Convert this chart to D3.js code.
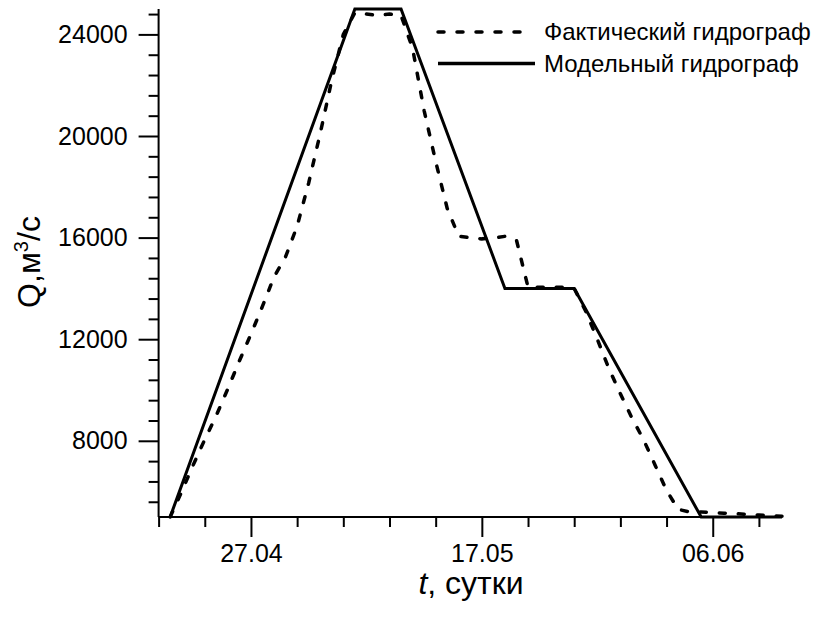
<!DOCTYPE html>
<html>
<head>
<meta charset="utf-8">
<script src="https://cdn.jsdelivr.net/npm/d3@7"></script>
<style>
body { margin: 0; background: #fff; }
text { font-family: "Liberation Sans", Arial, sans-serif; fill: #000; }
</style>
</head>
<body>
<div id="chart"></div>
<script>
// data
var factDates = ["20.04","21.04","22.04","23.04","24.04","25.04","26.04","27.04","28.04","29.04",
	"30.04","01.05","02.05","03.05","04.05","05.05","06.05","07.05","08.05","09.05",
	"10.05","11.05","12.05","13.05","14.05","15.05","16.05","17.05","18.05","19.05",
	"20.05","21.05","22.05","23.05","24.05","25.05","26.05","27.05","28.05","29.05",
	"30.05","31.05","01.06","02.06","03.06","04.06","05.06","06.06","07.06","08.06",
	"09.06","10.06","11.06","12.06"];
var factQ = [5000,6000,7050,8050,9000,10050,11150,12200,13300,14450,
	15250,16450,18150,20100,22200,24000,24850,24800,24750,24800,
	24750,23450,21000,19000,17150,16050,16000,15950,15980,16050,
	15900,14050,14050,14050,14050,14000,13100,12000,10850,9850,
	8900,8050,7050,6050,5300,5200,5200,5170,5150,5130,
	5100,5080,5050,5030];
var modelDates = ["20.04","06.05","10.05","19.05","25.05","05.06","12.06"];
var modelQ = [5000,25000,25000,14000,14000,5000,5000];
var xStart = "19.04", xEnd = "12.06";
var xLabels = ["27.04","17.05","06.06"];
var yMin = 5000, yMax = 25000, yStep = 800, yMajor = 4000;
var legendNames = ["Фактический гидрограф","Модельный гидрограф"];

var width = 824, height = 621;
var margin = {left: 158.6, top: 9, right: 42, bottom: 104};

var parse = d3.timeParse("%d.%m");

var svg = d3.select("#chart")
	.append("svg")
	.attr("width", width)
	.attr("height", height);

var x = d3.scaleTime()
	.domain([parse(xStart), parse(xEnd)])
	.range([margin.left, width - margin.right]);

var y = d3.scaleLinear()
	.domain([yMin, yMax])
	.range([height - margin.bottom, margin.top]);

// ticks every 4 days, labelled every 20
var majorX = xLabels.map(function(d) { return +parse(d); });
var xTicks = d3.timeDay.range(parse(xStart), d3.timeDay.offset(parse(xEnd), 1), 4);
var xAxis = d3.axisBottom(x)
	.tickValues(xTicks)
	.tickSize(10)
	.tickFormat(function(d) { return majorX.indexOf(+d) >= 0 ? d3.timeFormat("%d.%m")(d) : ""; });

var yTicks = d3.range(Math.ceil(yMin / yStep) * yStep, yMax + 1, yStep);
var yAxis = d3.axisLeft(y)
	.tickValues(yTicks)
	.tickSize(10)
	.tickFormat(function(d) { return d % yMajor === 0 ? d : ""; });

var gx = svg.append("g")
	.attr("transform", "translate(0," + y(yMin) + ")")
	.call(xAxis);
gx.selectAll(".tick line")
	.attr("y2", function(d) { return majorX.indexOf(+d) >= 0 ? 20 : 10; });
gx.selectAll(".tick text").attr("y", 45).attr("dy", null);

var gy = svg.append("g")
	.attr("transform", "translate(" + x(parse(xStart)) + ",0)")
	.call(yAxis);
gy.selectAll(".tick line")
	.attr("x2", function(d) { return d % yMajor === 0 ? -20 : -10; });
gy.selectAll(".tick text").attr("x", -31);

[gx, gy].forEach(function(g) {
	g.select(".domain").attr("stroke-width", 2).attr("stroke", "#000");
	g.selectAll(".tick line").attr("stroke-width", 2).attr("stroke", "#000");
	g.selectAll(".tick text")
		.style("font-size", "25px")
		.style("font-family", "Liberation Sans, Arial, sans-serif")
		.attr("fill", "#000");
});
gx.select(".domain").attr("d", "M" + x.range()[0] + ",0H" + x.range()[1]);
gy.select(".domain").attr("d", "M0," + y.range()[0] + "V" + y.range()[1]);

// lines
var line = d3.line()
	.x(function(d) { return x(d[0]); })
	.y(function(d) { return y(d[1]); });

var factData = factDates.map(function(d, i) { return [parse(d), factQ[i]]; });
var modelData = modelDates.map(function(d, i) { return [parse(d), modelQ[i]]; });

svg.append("path")
	.datum(modelData)
	.attr("d", line)
	.attr("fill", "none")
	.attr("stroke", "#000")
	.attr("stroke-width", 3)
	.attr("stroke-linejoin", "miter");

svg.append("path")
	.datum(factData)
	.attr("d", line)
	.attr("fill", "none")
	.attr("stroke", "#000")
	.attr("stroke-width", 3.5)
	.attr("stroke-linecap", "round")
	.attr("stroke-dasharray", "6,13");

// legend
var legend = svg.append("g");
legendNames.forEach(function(name, i) {
	var ly = 32 + i * 31.5;
	legend.append("line")
		.attr("x1", 438).attr("x2", i === 0 ? 522 : 535)
		.attr("y1", ly).attr("y2", ly)
		.attr("stroke", "#000")
		.attr("stroke-width", 3.5)
		.attr("stroke-linecap", i === 0 ? "round" : "butt")
		.attr("stroke-dasharray", i === 0 ? "6,13" : null);
	legend.append("text")
		.attr("x", 544).attr("y", ly)
		.attr("dy", "0.35em")
		.style("font-size", "24px")
		.text(name);
});

// axis titles
svg.append("text")
	.attr("x", 471).attr("y", 594)
	.attr("text-anchor", "middle")
	.style("font-size", "32px")
	.html('<tspan font-style="italic">t</tspan>, сутки');

svg.append("text")
	.attr("transform", "translate(40,262) rotate(-90)")
	.attr("text-anchor", "middle")
	.style("font-size", "32px")
	.html('Q,м<tspan dy="-12" font-size="20px">3</tspan><tspan dy="12">/с</tspan>');
</script>
</body>
</html>
